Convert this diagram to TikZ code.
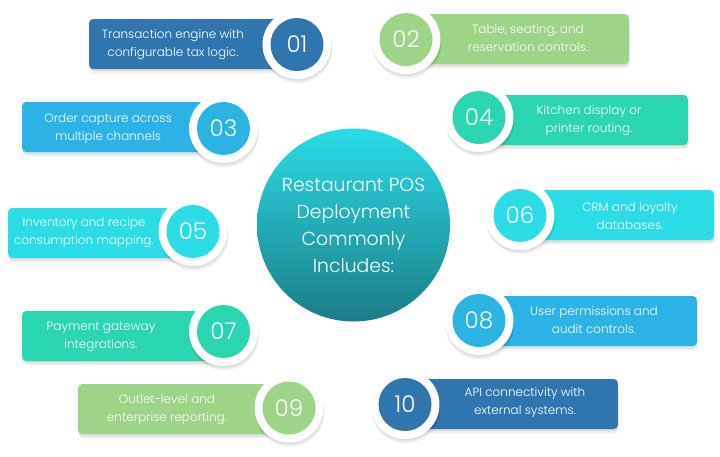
\documentclass[tikz,border=0pt]{standalone}
\usepackage{fontspec}
\setmainfont{Poppins Light}
\usetikzlibrary{shadows}
\definecolor{navyitem}{HTML}{2F75AE}
\definecolor{skyitem}{HTML}{2BB3E5}
\definecolor{greenitem}{HTML}{9BD585}
\definecolor{tealitem}{HTML}{2AD6B1}
\definecolor{cyanitem}{HTML}{29DCE6}
\definecolor{deepitem}{HTML}{1B7C88}
\tikzset{
  softshadow/.style={
    drop shadow={shadow xshift=0pt,shadow yshift=-1pt,opacity=.035,fill=black},
    drop shadow={shadow xshift=.5pt,shadow yshift=-2pt,opacity=.035,fill=black},
    drop shadow={shadow xshift=.5pt,shadow yshift=-3pt,opacity=.035,fill=black},
    drop shadow={shadow xshift=1pt,shadow yshift=-4pt,opacity=.03,fill=black},
    drop shadow={shadow xshift=1pt,shadow yshift=-5pt,opacity=.02,fill=black}},
  itembar/.style={rectangle,rounded corners=4pt,minimum height=50pt,inner sep=0pt,softshadow},
  ring/.style={circle,fill=white,minimum size=69pt,inner sep=0pt,softshadow},
  badge/.style={circle,minimum size=53pt,inner sep=0pt,text=white,font=\fontsize{23}{24}\selectfont},
  itemtext/.style={align=center,text=white,inner sep=0pt,font=\fontsize{12}{18}\selectfont}
}
\begin{document}
\begin{tikzpicture}[x=1pt,y=-1pt]
    \useasboundingbox (0,0) rectangle (720,456);

    % Centre circle
    \node[circle,minimum size=193pt,inner sep=0pt,top color=cyanitem,bottom color=deepitem,
      text=white,align=center,font=\fontsize{18.8}{27}\selectfont] (centre) at (353.5,225)
      {Restaurant POS\\Deployment\\Commonly\\Includes:};

    % Left column
    \node[itembar,fill=navyitem,anchor=west,minimum width=208pt] (bar01) at (89,44) {};
    \node[ring] (ring01) at (297,44.5) {};
    \node[badge,fill=navyitem] (badge01) at (297,44.5) {01};
    \node[itemtext] (text01) at (173,44.75) {Transaction engine with\\configurable tax logic.};

    \node[itembar,fill=skyitem,anchor=west,minimum width=201pt] (bar03) at (22,127) {};
    \node[ring] (ring03) at (223.5,128.5) {};
    \node[badge,fill=skyitem] (badge03) at (223.5,128.5) {03};
    \node[itemtext] (text03) at (108,129) {Order capture across\\multiple channels};

    \node[itembar,fill=cyanitem,anchor=west,minimum width=185pt] (bar05) at (8,233) {};
    \node[ring] (ring05) at (193,231.5) {};
    \node[badge,fill=cyanitem] (badge05) at (193,231.5) {05};
    \node[itemtext] (text05) at (84,233) {Inventory and recipe\\consumption mapping.};

    \node[itembar,fill=tealitem,anchor=west,minimum width=201pt] (bar07) at (22,336) {};
    \node[ring] (ring07) at (223.5,331.5) {};
    \node[badge,fill=tealitem] (badge07) at (223.5,331.5) {07};
    \node[itemtext] (text07) at (101,337) {Payment gateway\\integrations.};

    \node[itembar,fill=greenitem,anchor=west,minimum width=211pt] (bar09) at (78,409) {};
    \node[ring] (ring09) at (289,408) {};
    \node[badge,fill=greenitem] (badge09) at (289,408) {09};
    \node[itemtext] (text09) at (167,410) {Outlet-level and\\enterprise reporting.};

    % Right column
    \node[itembar,fill=greenitem,anchor=east,minimum width=223pt] (bar02) at (629,39) {};
    \node[ring] (ring02) at (406,39.5) {};
    \node[badge,fill=greenitem] (badge02) at (406,39.5) {02};
    \node[itemtext] (text02) at (528,38) {Table, seating, and\\reservation controls.};

    \node[itembar,fill=tealitem,anchor=east,minimum width=209pt] (bar04) at (688,120) {};
    \node[ring] (ring04) at (479,117.5) {};
    \node[badge,fill=tealitem] (badge04) at (479,117.5) {04};
    \node[itemtext] (text04) at (589,121) {Kitchen display or\\printer routing.};

    \node[itembar,fill=cyanitem,anchor=east,minimum width=194pt] (bar06) at (714,215) {};
    \node[ring] (ring06) at (520,215.5) {};
    \node[badge,fill=cyanitem] (badge06) at (520,215.5) {06};
    \node[itemtext] (text06) at (630,216) {CRM and loyalty\\databases.};

    \node[itembar,fill=skyitem,anchor=east,minimum width=218pt] (bar08) at (697,321) {};
    \node[ring] (ring08) at (479,320.5) {};
    \node[badge,fill=skyitem] (badge08) at (479,320.5) {08};
    \node[itemtext] (text08) at (594,320) {User permissions and\\audit controls.};

    \node[itembar,fill=navyitem,anchor=east,minimum width=213pt] (bar10) at (618,404) {};
    \node[ring] (ring10) at (405,404.5) {};
    \node[badge,fill=navyitem] (badge10) at (405,404.5) {10};
    \node[itemtext] (text10) at (525,403) {API connectivity with\\external systems.};
\end{tikzpicture}
\end{document}
